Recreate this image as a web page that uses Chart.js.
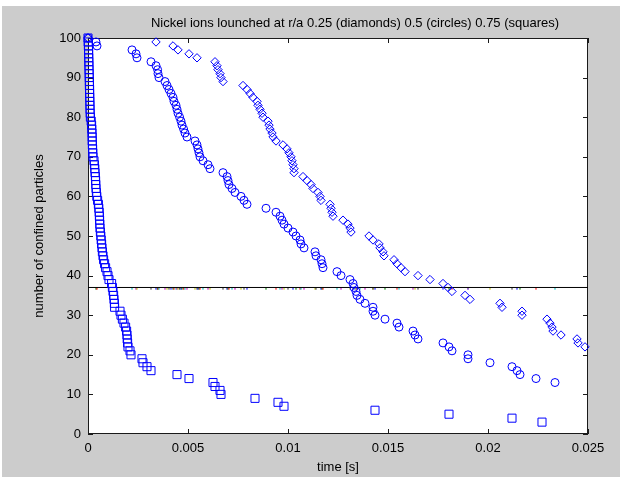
<!DOCTYPE html>
<html>
<head>
<meta charset="utf-8">
<title>Nickel ions</title>
<script src="https://cdn.jsdelivr.net/npm/chart.js@4.4.0/dist/chart.umd.min.js"></script>
<style>
  html, body { margin: 0; padding: 0; background: #fff; }
  #wrap { width: 622px; height: 481px; }
</style>
</head>
<body>
<div id="wrap"><canvas id="myChart" width="622" height="481"></canvas></div>
<script>
var TITLE = 'Nickel ions lounched at r/a 0.25 (diamonds) 0.5 (circles) 0.75 (squares)';
var X_TITLE = 'time [s]';
var Y_TITLE = 'number of confined particles';

var xTicks = [0, 0.005, 0.01, 0.015, 0.02, 0.025];
var xTickLabels = ['0', '0.005', '0.01', '0.015', '0.02', '0.025'];
var yTicks = [0, 10, 20, 30, 40, 50, 60, 70, 80, 90, 100];

// 1/e level
var LEVEL = 37;

// r/a 0.25 - diamonds
var diamondT = [
    0.00000, 0.00340, 0.00425, 0.00450, 0.00505, 0.00545, 0.00635, 0.00645, 0.00650, 0.00660,
    0.00665, 0.00675, 0.00775, 0.00795, 0.00810, 0.00825, 0.00845, 0.00850, 0.00860, 0.00870,
    0.00875, 0.00900, 0.00905, 0.00910, 0.00920, 0.00925, 0.00940, 0.00975, 0.00995, 0.01005,
    0.01015, 0.01020, 0.01025, 0.01030, 0.01030, 0.01075, 0.01095, 0.01115, 0.01125, 0.01150,
    0.01160, 0.01165, 0.01210, 0.01215, 0.01220, 0.01225, 0.01275, 0.01300, 0.01310, 0.01315,
    0.01405, 0.01425, 0.01455, 0.01460, 0.01475, 0.01480, 0.01530, 0.01545, 0.01565, 0.01585,
    0.01650, 0.01710, 0.01775, 0.01800, 0.01820, 0.01885, 0.01910, 0.02060, 0.02070, 0.02170,
    0.02170, 0.02295, 0.02310, 0.02320, 0.02325, 0.02365, 0.02445, 0.02450, 0.02485
];
var diamondN = [
    100, 99, 98, 97, 96, 95, 94, 93, 92, 91,
    90, 89, 88, 87, 86, 85, 84, 83, 82, 81,
    80, 79, 78, 77, 76, 75, 74, 73, 72, 71,
    70, 69, 68, 67, 66, 65, 64, 63, 62, 61,
    60, 59, 58, 57, 56, 55, 54, 53, 52, 51,
    50, 49, 48, 47, 46, 45, 44, 43, 42, 41,
    40, 39, 38, 37, 36, 35, 34, 33, 32, 31,
    30, 29, 28, 27, 26, 25, 24, 23, 22
];

// r/a 0.5 - circles
var circleT = [
    0.00000, 0.00040, 0.00045, 0.00220, 0.00240, 0.00245, 0.00315, 0.00340, 0.00348, 0.00350,
    0.00355, 0.00385, 0.00395, 0.00405, 0.00415, 0.00425, 0.00430, 0.00440, 0.00445, 0.00450,
    0.00458, 0.00465, 0.00470, 0.00478, 0.00485, 0.00495, 0.00535, 0.00545, 0.00550, 0.00555,
    0.00560, 0.00575, 0.00600, 0.00610, 0.00675, 0.00695, 0.00700, 0.00705, 0.00720, 0.00735,
    0.00765, 0.00780, 0.00795, 0.00890, 0.00940, 0.00960, 0.00970, 0.00980, 0.01000, 0.01025,
    0.01040, 0.01060, 0.01065, 0.01080, 0.01135, 0.01140, 0.01165, 0.01170, 0.01175, 0.01245,
    0.01265, 0.01310, 0.01325, 0.01330, 0.01340, 0.01345, 0.01360, 0.01385, 0.01425, 0.01425,
    0.01435, 0.01485, 0.01545, 0.01555, 0.01625, 0.01635, 0.01650, 0.01775, 0.01805, 0.01820,
    0.01900, 0.01900, 0.02010, 0.02120, 0.02145, 0.02160, 0.02240, 0.02335
];
var circleN = [
    100, 99, 98, 97, 96, 95, 94, 93, 92, 91,
    90, 89, 88, 87, 86, 85, 84, 83, 82, 81,
    80, 79, 78, 77, 76, 75, 74, 73, 72, 71,
    70, 69, 68, 67, 66, 65, 64, 63, 62, 61,
    60, 59, 58, 57, 56, 55, 54, 53, 52, 51,
    50, 49, 48, 47, 46, 45, 44, 43, 42, 41,
    40, 39, 38, 37, 36, 35, 34, 33, 32, 31,
    30, 29, 28, 27, 26, 25, 24, 23, 22, 21,
    20, 19, 18, 17, 16, 15, 14, 13
];

// r/a 0.75 - squares
var squareT = [
    0.00000, 0.00001, 0.00002, 0.00003, 0.00003, 0.00004, 0.00004, 0.00005, 0.00005, 0.00006,
    0.00006, 0.00007, 0.00007, 0.00008, 0.00008, 0.00009, 0.00009, 0.00010, 0.00010, 0.00011,
    0.00012, 0.00016, 0.00018, 0.00019, 0.00020, 0.00021, 0.00021, 0.00022, 0.00023, 0.00024,
    0.00025, 0.00030, 0.00032, 0.00034, 0.00035, 0.00037, 0.00038, 0.00039, 0.00040, 0.00042,
    0.00044, 0.00048, 0.00052, 0.00054, 0.00056, 0.00057, 0.00058, 0.00059, 0.00060, 0.00062,
    0.00064, 0.00066, 0.00068, 0.00070, 0.00072, 0.00075, 0.00078, 0.00083, 0.00088, 0.00095,
    0.00100, 0.00105, 0.00118, 0.00122, 0.00125, 0.00128, 0.00130, 0.00132, 0.00133, 0.00160,
    0.00165, 0.00172, 0.00180, 0.00188, 0.00193, 0.00195, 0.00196, 0.00198, 0.00200, 0.00210,
    0.00215, 0.00270, 0.00275, 0.00295, 0.00315, 0.00445, 0.00505, 0.00625, 0.00635, 0.00660,
    0.00665, 0.00835, 0.00950, 0.00980, 0.01435, 0.01805, 0.02120, 0.02270
];
var squareN = [
    100, 99, 98, 97, 96, 95, 94, 93, 92, 91,
    90, 89, 88, 87, 86, 85, 84, 83, 82, 81,
    80, 79, 78, 77, 76, 75, 74, 73, 72, 71,
    70, 69, 68, 67, 66, 65, 64, 63, 62, 61,
    60, 59, 58, 57, 56, 55, 54, 53, 52, 51,
    50, 49, 48, 47, 46, 45, 44, 43, 42, 41,
    40, 39, 38, 37, 36, 35, 34, 33, 32, 31,
    30, 29, 28, 27, 26, 25, 24, 23, 22, 21,
    20, 19, 18, 17, 16, 15, 14, 13, 12, 11,
    10, 9, 8, 7, 6, 5, 4, 3
];

// colour cycle of the little loss marks sitting on the 1/e line
var markColors = ['#0000ff', '#008000', '#ff0000', '#00bfbf', '#bf00bf', '#bfbf00', '#404040'];

var FONT = "'Liberation Sans', Arial, Helvetica, sans-serif";
var BLUE = '#0000ff';
var AXIS = '#1a1a1a';

function toPoints(ts, ns) {
    var pts = [];
    for (var i = 0; i < ts.length; i++) {
        pts.push({x: ts[i], y: ns[i]});
    }
    return pts;
}

var levelMarks = [];
var levelMarkColors = [];
for (var i = 1; i < circleT.length; i++) {
    levelMarks.push({x: circleT[i], y: LEVEL - 0.35});
    levelMarkColors.push(markColors[i % markColors.length]);
}

// gray figure, white axes, box with inward ticks, title
var figurePlugin = {
    id: 'figure',
    beforeDraw: function (chart) {
        var ctx = chart.ctx, a = chart.chartArea;
        ctx.save();
        ctx.fillStyle = '#ffffff';
        ctx.fillRect(0, 0, chart.width, chart.height);
        ctx.fillStyle = '#cccccc';
        ctx.fillRect(2, 6, 618, 471);
        ctx.fillStyle = '#ffffff';
        ctx.fillRect(a.left, a.top, a.right - a.left, a.bottom - a.top);
        ctx.restore();
    },
    beforeDatasetsDraw: function (chart) {
        var ctx = chart.ctx, a = chart.chartArea;
        var xs = chart.scales.x, ys = chart.scales.y;
        var TL = 5;
        ctx.save();
        ctx.strokeStyle = AXIS;
        ctx.lineWidth = 1;
        ctx.strokeRect(a.left + 0.5, a.top + 0.5, a.right - a.left - 1, a.bottom - a.top - 1);
        ctx.beginPath();
        xs.ticks.forEach(function (t) {
            var px = Math.round(xs.getPixelForValue(t.value)) + 0.5;
            ctx.moveTo(px, a.bottom);
            ctx.lineTo(px, a.bottom - TL);
            ctx.moveTo(px, a.top);
            ctx.lineTo(px, a.top + TL);
        });
        ys.ticks.forEach(function (t) {
            var py = Math.round(ys.getPixelForValue(t.value)) + 0.5;
            ctx.moveTo(a.left, py);
            ctx.lineTo(a.left + TL, py);
            ctx.moveTo(a.right, py);
            ctx.lineTo(a.right - TL, py);
        });
        ctx.stroke();
        ctx.restore();
    },
    afterDraw: function (chart) {
        var ctx = chart.ctx, a = chart.chartArea;
        ctx.save();
        ctx.fillStyle = '#000';
        ctx.font = '13px ' + FONT;
        ctx.textAlign = 'center';
        ctx.textBaseline = 'middle';
        ctx.fillText(TITLE, (a.left + a.right) / 2 + 17, 23);
        ctx.restore();
    }
};

var ctx = document.getElementById('myChart').getContext('2d');
var myChart = new Chart(ctx, {
    type: 'scatter',
    data: {
        datasets: [
            {
                label: 'r/a 0.25',
                data: toPoints(diamondT, diamondN),
                pointStyle: 'rectRot',
                pointRadius: 4.2,
                borderColor: BLUE,
                backgroundColor: 'rgba(0,0,0,0)',
                pointBorderWidth: 1,
                clip: false
            },
            {
                label: 'r/a 0.5',
                data: toPoints(circleT, circleN),
                pointStyle: 'circle',
                pointRadius: 4,
                borderColor: BLUE,
                backgroundColor: 'rgba(0,0,0,0)',
                pointBorderWidth: 1,
                clip: false
            },
            {
                label: 'r/a 0.75',
                data: toPoints(squareT, squareN),
                pointStyle: 'rect',
                pointRadius: 5.7,
                borderColor: BLUE,
                backgroundColor: 'rgba(0,0,0,0)',
                pointBorderWidth: 1,
                clip: false
            },
            {
                label: '1/e',
                data: [{x: xTicks[0], y: LEVEL}, {x: xTicks[xTicks.length - 1], y: LEVEL}],
                showLine: true,
                borderColor: '#000',
                borderWidth: 1,
                pointRadius: 0
            },
            {
                label: 'marks',
                data: levelMarks,
                pointStyle: 'rect',
                pointRadius: 1,
                pointBorderWidth: 0,
                backgroundColor: levelMarkColors,
                borderColor: levelMarkColors
            }
        ]
    },
    options: {
        responsive: false,
        devicePixelRatio: 1,
        animation: false,
        layout: {padding: {top: 38, right: 34, left: 0, bottom: 0}},
        plugins: {
            legend: {display: false},
            tooltip: {enabled: false},
            title: {display: false}
        },
        scales: {
            x: {
                type: 'linear',
                min: 0,
                max: 0.025,
                afterBuildTicks: function (s) {
                    s.ticks = xTicks.map(function (v) { return {value: v}; });
                },
                afterFit: function (s) { s.height = 47; },
                ticks: {
                    autoSkip: false,
                    maxRotation: 0,
                    padding: 7,
                    color: '#000',
                    font: {family: FONT, size: 13},
                    callback: function (v, i) { return xTickLabels[i]; }
                },
                grid: {display: false, drawTicks: false},
                border: {display: false},
                title: {
                    display: true,
                    text: X_TITLE,
                    color: '#000',
                    font: {family: FONT, size: 13},
                    padding: {top: 0, bottom: 6}
                }
            },
            y: {
                type: 'linear',
                min: 0,
                max: 100,
                afterBuildTicks: function (s) {
                    s.ticks = yTicks.map(function (v) { return {value: v}; });
                },
                afterFit: function (s) { s.width = 88; },
                ticks: {
                    autoSkip: false,
                    padding: 7,
                    color: '#000',
                    font: {family: FONT, size: 13}
                },
                grid: {display: false, drawTicks: false},
                border: {display: false},
                title: {
                    display: true,
                    text: Y_TITLE,
                    color: '#000',
                    font: {family: FONT, size: 13},
                    padding: {top: 32, bottom: 0}
                }
            }
        }
    },
    plugins: [figurePlugin]
});
</script>
</body>
</html>
